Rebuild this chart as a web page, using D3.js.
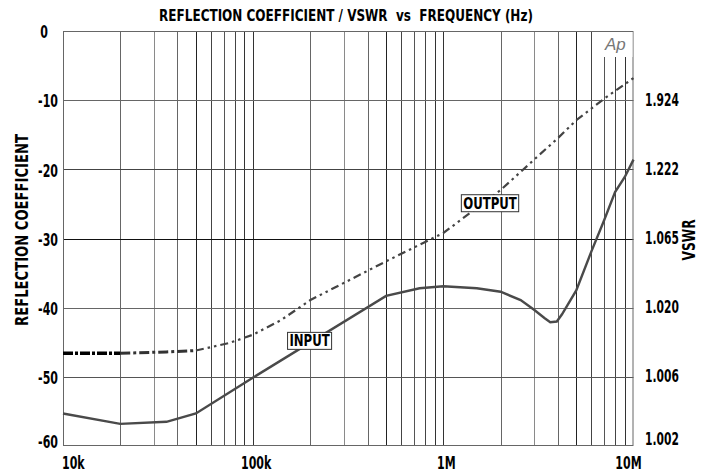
<!DOCTYPE html>
<html><head><meta charset="utf-8">
<script src="https://cdn.jsdelivr.net/npm/d3@7"></script>
<style>
html,body{margin:0;padding:0;background:#fff;}
svg text{font-family:"Liberation Sans Narrow","Arial Narrow","DejaVu Sans Condensed",sans-serif;font-weight:bold;font-stretch:condensed;white-space:pre;}
</style></head>
<body><svg id="c" width="712" height="474"></svg>
<script>
// ---- data ----
const inputFreq = [1e4, 2e4, 3.5e4, 5e4, 1e5, 5e5, 7.5e5, 1e6, 1.5e6, 2e6, 2.55e6, 3e6, 3.4e6, 3.65e6, 3.95e6, 4.2e6, 5e6, 6e6, 7e6, 8e6, 9e6, 1e7];
const inputDb   = [-55.3, -56.8, -56.5, -55.3, -50.1, -38.3, -37.2, -36.9, -37.2, -37.7, -38.9, -40.3, -41.5, -42.1, -42.0, -41.0, -37.5, -31.9, -27.4, -23.3, -21.1, -18.6];
const outputFreq = [1e4, 2e4, 3.5e4, 5e4, 7.5e4, 1e5, 1.4e5, 2e5, 5e5, 1e6, 2e6, 3e6, 4e6, 5e6, 7e6, 1e7];
const outputDb   = [-46.6, -46.6, -46.4, -46.2, -45.1, -43.9, -41.8, -38.9, -33.3, -29.2, -23.0, -18.6, -15.5, -12.9, -9.8, -6.8];
const yTicks = [0, -10, -20, -30, -40, -50, -60];
const yTickLabels = ["0", "-10", "-20", "-30", "-40", "-50", "-60"];
const vswrTicks = [-10, -20, -30, -40, -50, -60];
const vswrLabels = ["1.924", "1.222", "1.065", "1.020", "1.006", "1.002"];
const xTicks = [1e4, 1e5, 1e6, 1e7];
const xTickLabels = ["10k", "100k", "1M", "10M"];
const title = "REFLECTION COEFFICIENT / VSWR  vs  FREQUENCY (Hz)";

// ---- layout ----
const L = 63, R = 633.5, T = 31, B = 446;
const svg = d3.select("#c");
const x = d3.scaleLog().domain([1e4, 1e7]).range([L, R]);
const y = d3.scaleLinear().domain([-60, 0]).range([B, T]);

// condensed text helper (horizontal squeeze to mimic a narrow face)
function ctext(parent, px, py, str, size, sx, anchor, rot) {
  return parent.append("text")
    .attr("transform", `translate(${px},${py})` + (rot ? ` rotate(${rot})` : "") + ` scale(${sx},1)`)
    .attr("text-anchor", anchor || "start").attr("dominant-baseline", "central")
    .attr("font-size", size).attr("fill", "#000").text(str);
}

// minor vertical grid
const minor = [];
for (let d = 1e4; d < 1e7; d *= 10) for (let m = 2; m <= 9; m++) minor.push({f: d * m, m});
const minorColor = {2:"#666",3:"#8a8a8a",4:"#666",5:"#222",6:"#444",7:"#555",8:"#444",9:"#333"};
svg.append("g").selectAll("line").data(minor).join("line")
  .attr("x1", d => Math.round(x(d.f)) + 0.5).attr("x2", d => Math.round(x(d.f)) + 0.5)
  .attr("y1", T).attr("y2", B)
  .attr("stroke", d => minorColor[d.m]).attr("stroke-width", 1);
svg.append("g").selectAll("line").data([1e5, 1e6]).join("line")
  .attr("x1", d => Math.round(x(d)) + 0.5).attr("x2", d => Math.round(x(d)) + 0.5)
  .attr("y1", T).attr("y2", B).attr("stroke", "#333");

// horizontal grid
const hColor = {"-10":"#666","-20":"#444","-30":"#111","-40":"#666","-50":"#555"};
svg.append("g").selectAll("line").data(yTicks.filter(v => v !== 0 && v !== -60)).join("line")
  .attr("x1", L).attr("x2", R)
  .attr("y1", d => Math.round(y(d)) + 0.5).attr("y2", d => Math.round(y(d)) + 0.5)
  .attr("stroke", d => hColor[d]);

// frame
svg.append("rect").attr("x", L + 0.5).attr("y", T + 0.5).attr("width", R - L - 1).attr("height", B - T - 1)
  .attr("fill", "none").attr("stroke", "#666");

// Ap logo box
svg.append("rect").attr("x", 599).attr("y", T + 1).attr("width", R - 600).attr("height", 25).attr("fill", "#fff");
svg.append("text").attr("x", 605).attr("y", 50).text("Ap")
  .style("font-family", "'Liberation Sans','DejaVu Sans',sans-serif").style("font-style", "italic")
  .style("font-weight", "normal").style("font-stretch", "normal").attr("font-size", 17).attr("fill", "#777");

// curves
const line = d3.line().x(d => x(d[0])).y(d => y(d[1]));
const inPts = inputFreq.map((f, i) => [f, inputDb[i]]);
const outPts = outputFreq.map((f, i) => [f, outputDb[i]]);
svg.append("path").attr("d", line(inPts)).attr("fill", "none").attr("stroke", "#4a4a4a").attr("stroke-width", 2.4);
svg.append("path").attr("d", line(outPts.filter(d => d[0] >= 5e4))).attr("fill", "none")
  .attr("stroke", "#444").attr("stroke-width", 2.2).attr("stroke-dasharray", "8,4,2.5,4,2.5,4");
svg.append("path").attr("d", line(outPts.filter(d => d[0] >= 2e4 && d[0] <= 5e4))).attr("fill", "none")
  .attr("stroke", "#333").attr("stroke-width", 3).attr("stroke-dasharray", "10,3,3,3");
svg.append("path").attr("d", line(outPts.filter(d => d[0] <= 2e4))).attr("fill", "none")
  .attr("stroke", "#000").attr("stroke-width", 3.5).attr("stroke-dasharray", "10,2,3,2");

// curve labels
function boxLabel(txt, f, db) {
  const g = svg.append("g");
  const t = ctext(g, x(f), y(db), txt, 16.5, 0.79, "middle");
  const bb = t.node().getBBox();
  const w = bb.width * 0.79;
  g.insert("rect", "text").attr("x", x(f) - w / 2 - 1.5).attr("y", y(db) - 8.5).attr("width", w + 3).attr("height", 17)
    .attr("fill", "#fff").attr("stroke", "#333").attr("stroke-width", 1);
}
boxLabel("INPUT", 1.98e5, -44.8);
boxLabel("OUTPUT", 1.76e6, -24.9);

// axis tick labels
const gy = svg.append("g");
yTicks.forEach((v, i) => ctext(gy, v === 0 ? 48 : 58, y(v) + (v === -60 ? -4 : 1), yTickLabels[i], 17, 0.72, "end"));
const gv = svg.append("g");
vswrTicks.forEach((v, i) => ctext(gv, 645, y(v) + (v === -60 ? -7 : -1), vswrLabels[i], 17, 0.7, "start"));
const xdx = [-1, 3, 3, -5];
const gx = svg.append("g");
xTicks.forEach((f, i) => ctext(gx, x(f) + xdx[i], 463, xTickLabels[i], 17, 0.72, i === 0 ? "start" : "middle"));

// titles
ctext(svg, 346, 16, title, 16.5, 0.81, "middle");
ctext(svg, 22, 230, "REFLECTION COEFFICIENT", 17, 0.86, "middle", -90);
ctext(svg, 689, 240, "VSWR", 17, 0.8, "middle", -90);
</script></body></html>
